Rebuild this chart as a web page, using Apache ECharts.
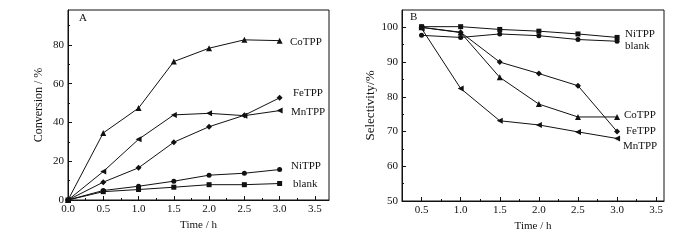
<!DOCTYPE html>
<html>
<head>
<meta charset="utf-8">
<script src="https://cdn.jsdelivr.net/npm/echarts@6/dist/echarts.min.js"></script>
<style>
  html, body { margin: 0; padding: 0; background: #fff; }
  #chart { width: 700px; height: 240px; }
</style>
</head>
<body>
<div id="chart"></div>
<script>
// panel A: conversion vs time
var timeA = [0, 0.5, 1.0, 1.5, 2.0, 2.5, 3.0];
var coA = [0, 34.6, 47.4, 71.4, 78.3, 82.6, 82.2];
var mnA = [0, 14.7, 31.3, 43.9, 44.7, 43.5, 46.1];
var feA = [0, 9.2, 16.6, 29.8, 37.8, 43.7, 52.7];
var niA = [0, 4.9, 7.1, 9.7, 12.8, 13.8, 15.7];
var blankA = [0, 4.3, 5.4, 6.6, 7.9, 7.9, 8.5];

// panel B: selectivity vs time
var timeB = [0.5, 1.0, 1.5, 2.0, 2.5, 3.0];
var niB = [100.2, 100.2, 99.4, 98.9, 98.1, 97.1];
var blankB = [97.7, 97.1, 98.1, 97.6, 96.5, 96.0];
var feB = [100, 98.6, 90.0, 86.7, 83.2, 70.0];
var coB = [100, 98.5, 85.6, 77.9, 74.2, 74.2];
var mnB = [99.7, 82.4, 73.1, 71.9, 69.9, 68.0];

// tick labels
var xTicksA = [0, 0.5, 1.0, 1.5, 2.0, 2.5, 3.0, 3.5];
var xMinorA = [0.25, 0.75, 1.25, 1.75, 2.25, 2.75, 3.25];
var yTicksA = [0, 20, 40, 60, 80];
var yMinorA = [10, 30, 50, 70, 90];
var xTicksB = [0.5, 1.0, 1.5, 2.0, 2.5, 3.0, 3.5];
var xMinorB = [0.75, 1.25, 1.75, 2.25, 2.75, 3.25];
var yTicksB = [50, 60, 70, 80, 90, 100];
var yMinorB = [55, 65, 75, 85, 95];

var FONT = '"Liberation Serif", "Times New Roman", serif';
var INK = '#111';

function pairs(xs, ys) {
    var out = [];
    for (var i = 0; i < xs.length; i++) out.push([xs[i], ys[i]]);
    return out;
}

function majorAxis(opts) {
    return {
        type: 'value',
        gridIndex: opts.grid,
        min: opts.min,
        max: opts.max,
        position: opts.pos,
        name: opts.name,
        nameLocation: 'middle',
        nameGap: opts.gap,
        nameTextStyle: { fontFamily: FONT, fontSize: opts.nameSize || 12, color: INK },
        axisLine: { show: true, lineStyle: { color: INK, width: 1 } },
        axisTick: { show: true, inside: true, length: 4, customValues: opts.ticks, lineStyle: { color: INK } },
        axisLabel: {
            show: true, customValues: opts.ticks, fontFamily: FONT, fontSize: 11, color: INK, margin: 4,
            formatter: function (v) { return opts.fmt ? v.toFixed(1) : String(v) }
        },
        splitLine: { show: false }
    }
}

function minorAxis(opts) {
    return {
        type: 'value',
        gridIndex: opts.grid,
        min: opts.min,
        max: opts.max,
        position: opts.pos,
        axisLine: { show: false },
        axisTick: { show: true, inside: true, length: 2, customValues: opts.ticks, lineStyle: { color: INK } },
        axisLabel: { show: false },
        splitLine: { show: false }
    }
}

function line(name, xi, yi, data, symbol, size, rot) {
    return {
        name: name,
        type: 'line',
        xAxisIndex: xi,
        yAxisIndex: yi,
        data: data,
        symbol: symbol,
        symbolSize: size,
        symbolRotate: rot || 0,
        showAllSymbol: true,
        lineStyle: { color: INK, width: 1 },
        itemStyle: { color: INK },
        animation: false
    }
}

function tag(text, x, y) {
    return {
        type: 'text', x: x, y: y,
        style: { text: text, font: '11px ' + FONT, fill: INK, verticalAlign: 'middle' }
    }
}

var chart = echarts.init(document.getElementById('chart'));
var option = {
    animation: false,
    grid: [
        { left: 68, top: 10, width: 261, height: 190, show: true, borderColor: INK, borderWidth: 1, containLabel: false },
        { left: 402, top: 10, width: 262, height: 191, show: true, borderColor: INK, borderWidth: 1, containLabel: false }
    ],
    xAxis: [
        majorAxis({ grid: 0, min: 0, max: 3.7, pos: 'bottom', name: 'Time / h', gap: 17, nameSize: 11, ticks: xTicksA, fmt: true }),
        minorAxis({ grid: 0, min: 0, max: 3.7, pos: 'bottom', ticks: xMinorA }),
        majorAxis({ grid: 1, min: 0.25, max: 3.6, pos: 'bottom', name: 'Time / h', gap: 17, nameSize: 11, ticks: xTicksB, fmt: true }),
        minorAxis({ grid: 1, min: 0.25, max: 3.6, pos: 'bottom', ticks: xMinorB })
    ],
    yAxis: [
        majorAxis({ grid: 0, min: 0, max: 98, pos: 'left', name: 'Conversion / %', gap: 23, nameSize: 12, ticks: yTicksA }),
        minorAxis({ grid: 0, min: 0, max: 98, pos: 'left', ticks: yMinorA }),
        majorAxis({ grid: 1, min: 50, max: 105, pos: 'left', name: 'Selectivity/%', gap: 25, nameSize: 13, ticks: yTicksB }),
        minorAxis({ grid: 1, min: 50, max: 105, pos: 'left', ticks: yMinorB })
    ],
    series: [
        line('CoTPP', 0, 0, pairs(timeA, coA), 'triangle', 6),
        line('MnTPP', 0, 0, pairs(timeA, mnA), 'triangle', 6, 90),
        line('FeTPP', 0, 0, pairs(timeA, feA), 'diamond', 6),
        line('NiTPP', 0, 0, pairs(timeA, niA), 'circle', 5),
        line('blank', 0, 0, pairs(timeA, blankA), 'rect', 5),
        line('NiTPP', 2, 2, pairs(timeB, niB), 'rect', 5),
        line('blank', 2, 2, pairs(timeB, blankB), 'circle', 5),
        line('FeTPP', 2, 2, pairs(timeB, feB), 'diamond', 6),
        line('CoTPP', 2, 2, pairs(timeB, coB), 'triangle', 6),
        line('MnTPP', 2, 2, pairs(timeB, mnB), 'triangle', 6, 90)
    ],
    graphic: [
        tag('A', 79, 18),
        tag('CoTPP', 290, 42),
        tag('FeTPP', 293, 93),
        tag('MnTPP', 291, 112),
        tag('NiTPP', 291, 166),
        tag('blank', 293, 184),
        tag('B', 410, 17),
        tag('NiTPP', 625, 34),
        tag('blank', 625, 46),
        tag('CoTPP', 624, 115),
        tag('FeTPP', 626, 131),
        tag('MnTPP', 623, 146)
    ]
};
chart.setOption(option);
</script>
</body>
</html>
